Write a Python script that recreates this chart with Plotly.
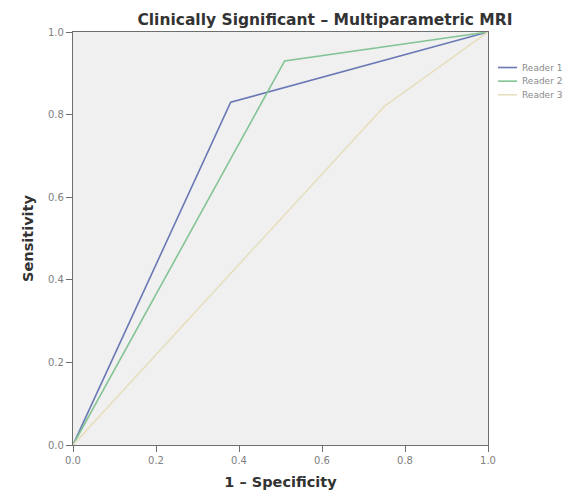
import plotly.graph_objects as go

readers = ["Reader 1", "Reader 2", "Reader 3"]
fpr = [[0.0, 0.38, 1.0], [0.0, 0.51, 1.0], [0.0, 0.75, 1.0]]
tpr = [[0.0, 0.83, 1.0], [0.0, 0.93, 1.0], [0.0, 0.82, 1.0]]
colors = ["#6a78b4", "#84c494", "#e6dfbf"]
ticks = [0.0, 0.2, 0.4, 0.6, 0.8, 1.0]
tick_labels = ["0.0", "0.2", "0.4", "0.6", "0.8", "1.0"]

fig = go.Figure()
for name, x, y, c in zip(readers, fpr, tpr, colors):
    fig.add_trace(go.Scatter(x=x, y=y, mode="lines", name=name,
                             line=dict(color=c, width=1.6), showlegend=False))

# custom compact legend (native legend rows are too tall)
leg_y = [0.914, 0.881, 0.848]
for name, c, ly in zip(readers, colors, leg_y):
    fig.add_shape(type="line", xref="paper", yref="paper",
                  x0=1.024, x1=1.070, y0=ly, y1=ly,
                  line=dict(color=c, width=1.6))
    fig.add_annotation(xref="paper", yref="paper", x=1.078, y=ly,
                       xanchor="left", yanchor="middle", showarrow=False,
                       text=name, font=dict(family="DejaVu Sans", size=9, color="#8a8a8a"))

axis_common = dict(range=[0, 1], tickvals=ticks, ticktext=tick_labels,
                   showgrid=False, zeroline=False, showline=True,
                   linecolor="#6e6e6e", linewidth=1.2, mirror=True,
                   ticks="outside", ticklen=6, tickcolor="#6e6e6e",
                   tickfont=dict(family="DejaVu Sans", size=10, color="#808080"),
                   fixedrange=True, automargin=False)

fig.update_layout(
    width=570, height=482,
    margin=dict(l=65, r=90, t=24, b=45),
    paper_bgcolor="white", plot_bgcolor="#f0f0f0",
    title=dict(text="<b>Clinically Significant – Multiparametric MRI</b>",
               x=0.556, xanchor="center", y=0.977, yanchor="middle",
               font=dict(family="DejaVu Sans", size=15.5, color="#333333")),
    xaxis=dict(axis_common, title=dict(text="<b>1 – Specificity</b>", standoff=18,
               font=dict(family="DejaVu Sans", size=14.5, color="#333333"))),
    yaxis=dict(axis_common, title=dict(text="<b>Sensitivity</b>", standoff=10,
               font=dict(family="DejaVu Sans", size=14.5, color="#333333"))),
    showlegend=False,
)

fig.write_html("out.html")
